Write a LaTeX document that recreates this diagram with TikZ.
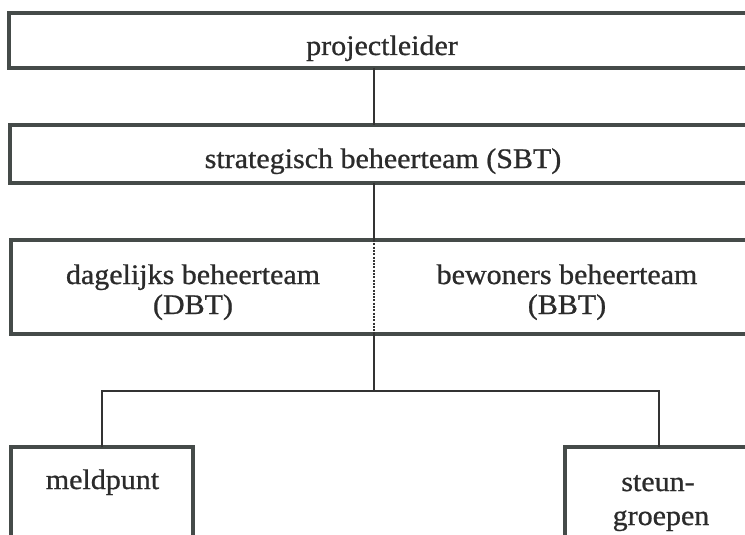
\documentclass[tikz,border=0pt]{standalone}
\usepackage{fontspec}
\setmainfont{Liberation Serif}[FakeStretch=1.06,FakeBold=0.8]
\definecolor{boxc}{HTML}{454B49}
\definecolor{linec}{HTML}{333333}
\definecolor{txtc}{HTML}{2B2B2B}
\begin{document}
\begin{tikzpicture}[x=1pt,y=-1pt,
  box/.style={draw=boxc, line width=3.1pt, rectangle, inner sep=0pt, outer sep=0pt, anchor=north west},
  conn/.style={draw=linec, line width=2.3pt},
  dotline/.style={draw=linec, line width=2.2pt, dash pattern=on 2pt off 1.3pt},
  txt/.style={text=txtc, anchor=base, inner sep=0pt, font=\fontsize{28.3}{32}\selectfont}]
\useasboundingbox (0,0) rectangle (745,535);
\fill[white] (0,0) rectangle (745,535);
\clip (0,0) rectangle (745,535);
% boxes
\node[box, minimum width=760pt, minimum height=55pt] (b1) at (9,13) {};
\node[box, minimum width=760pt, minimum height=58pt] (b2) at (10,125) {};
\node[box, minimum width=760pt, minimum height=94pt] (b3) at (11,240) {};
\node[box, minimum width=182pt, minimum height=120pt] (m) at (11,447) {};
\node[box, minimum width=220pt, minimum height=120pt] (s) at (565,447) {};
% texts
\node[txt] (t1) at (382,55) {projectleider};
\node[txt] (t2) at (383,168) {strategisch beheerteam (SBT)};
\node[txt] (t3a) at (193,284) {dagelijks beheerteam};
\node[txt] (t3b) at (193,314) {(DBT)};
\node[txt] (t4a) at (567,284) {bewoners beheerteam};
\node[txt] (t4b) at (567,314) {(BBT)};
\node[txt] (t5) at (102.5,489) {meldpunt};
\node[txt] (t6a) at (658,491) {steun-};
\node[txt] (t6b) at (661,525) {groepen};
% connectors
\coordinate (sp) at (374,0);
\coordinate (sx) at (659,0);
\coordinate (bar) at (374,391);
\draw[conn] (b1.south -| sp) -- (b2.north -| sp);
\draw[conn] (b2.south -| sp) -- (b3.north -| sp);
\draw[dotline] (b3.north -| sp) -- (b3.south -| sp);
\draw[conn] (b3.south -| sp) -- (bar);
\draw[conn] (m.north) |- (bar);
\draw[conn] (bar) -| (s.north -| sx);
\end{tikzpicture}
\end{document}
